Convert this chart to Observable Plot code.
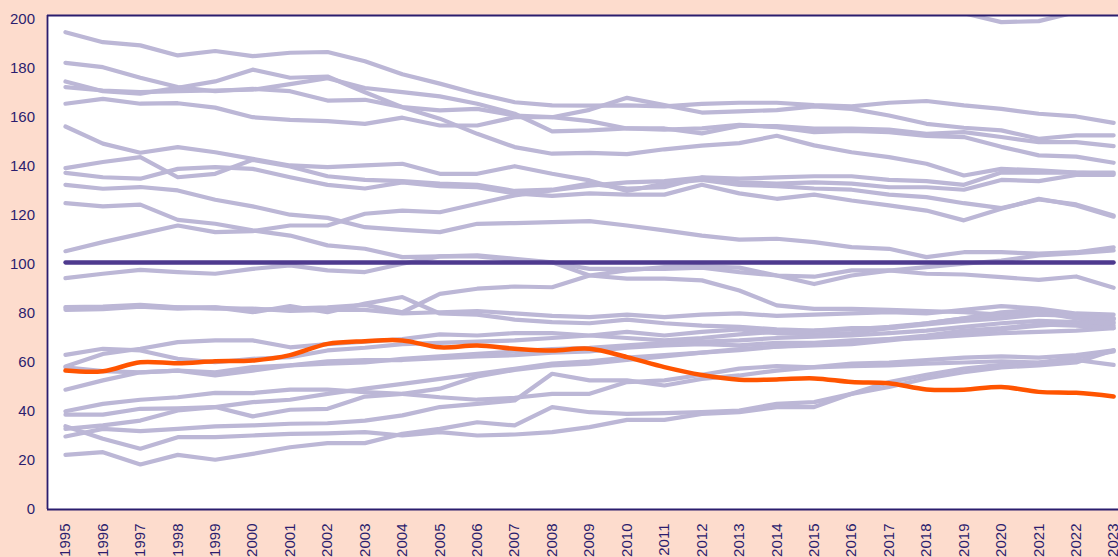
<!DOCTYPE html>
<html><head><meta charset="utf-8">
<script src="https://cdn.jsdelivr.net/npm/d3@7"></script>
<script src="https://cdn.jsdelivr.net/npm/@observablehq/plot@0.6"></script>
<style>
html,body{margin:0;padding:0;background:#fddccd;}
#chart{width:1118px;height:557px;overflow:hidden;}
</style></head><body><div id="chart"></div>
<script>
const years = [1995,1996,1997,1998,1999,2000,2001,2002,2003,2004,2005,2006,2007,2008,2009,2010,2011,2012,2013,2014,2015,2016,2017,2018,2019,2020,2021,2022,2023];
const yTicks = [0,20,40,60,80,100,120,140,160,180,200];

const s00 = [230,228,225,226,228,232,230,228,226,225,222,220,218,216,212,210,210,208,206,205,204,204,203,202.5,202.5,198.9,199.3,203,205];
const s01 = [194.8,190.7,189.4,185.3,187.1,185,186.4,186.7,182.9,177.6,173.8,169.7,166.2,164.9,164.8,164.9,164.5,165.5,166,166,165,164.5,166,166.7,164.9,163.5,161.5,160.4,157.8];
const s02 = [182.3,180.5,176.2,172.4,170.7,171.7,170.7,166.9,167.2,164.2,162.9,163.5,160.8,160.1,163.1,168,165,162,162.5,163,164.5,163.5,160.8,157.4,155.8,154.7,151.3,152.7,152.7];
const s03 = [174.7,170.7,169.7,172.1,174.7,179.5,176.2,176.7,170.3,164.2,159.5,153.3,147.9,145.2,145.5,145,147,148.5,149.5,152.5,148.6,145.8,143.8,141.1,136.3,139,138.4,137.5,137];
const s04 = [172.4,171,170.3,170.7,171,171.3,173.6,176,172,170.3,168.6,165.6,161.5,154.3,154.7,155.5,155.5,153.5,156.5,156.5,155.4,155.4,155,153.3,154,152,149.9,149.9,148.3];
const s05 = [165.6,167.6,165.6,165.8,164,160.1,159,158.5,157.4,159.9,156.7,156.7,160.1,160.1,158.5,155.5,155,155.5,157,156,154,154.5,154,152.5,152,148,144.5,144,141.5];
const s06 = [156.3,149.3,145.6,147.9,145.8,143.1,140.4,139.7,140.4,141.1,137,137,140.1,137,134.3,130,133,134.5,132.5,132,131,130.5,128.5,127.5,125,123,126.5,124.5,120];
const s07 = [139.3,141.8,143.8,135.6,137,142.7,140,136,134.5,134,133,132.5,130,130.5,133,131,131.5,135.5,133.5,133,133.5,133,131.5,131.5,130.5,134.5,134,136.5,136.6];
const s08 = [137.4,135.6,135,139,139.7,139,135.6,132.5,131,133.5,132,131.5,129,128,129,128.5,128.5,132.5,129,126.8,128.5,126.1,124.1,122,118,122.7,126.8,124.1,119.5];
const s09 = [132.5,130.9,131.6,130.2,126.4,123.7,120.3,119,115.2,114.1,113.2,116.6,116.9,117.3,117.7,115.9,113.9,111.8,110.1,110.5,109.1,107.1,106.4,103,105,105,104.4,105,107];
const s10 = [105.4,109.1,112.5,115.9,113.2,113.6,115.9,115.9,120.7,122,121.3,124.8,128.2,130.2,132.2,133.5,134,135.5,135,135.5,136,136,134.5,134,132.5,137.5,137.5,137.5,137.5];
const s11 = [125,123.7,124.4,118.2,116.6,113.9,111.8,107.8,106.4,103,103.3,103.3,101.9,100.8,98.2,98.2,98.2,98.7,96.9,95.5,95,97.6,97.6,96.2,95.9,94.8,93.7,95.1,90.5];
const s12 = [94.4,96.2,97.8,96.9,96.2,98.2,99.6,97.6,96.9,100.3,103.3,103.7,102.3,100.9,95.5,94.2,94.2,93.5,89.4,83.3,81.9,81.9,81.5,81,80.5,79.5,80.5,78.5,78];
const s13 = [82.6,82.8,83.5,82.5,82.5,81.5,82,82.5,83.5,80.5,88,90.1,91,90.7,95.5,97.6,98.9,99.2,98.7,95.5,92,95.5,97.5,98.9,100.3,101.6,103.7,104.6,105.7];
const s14 = [81.5,81.8,82.8,82,82.5,80.5,83,80.5,84,86.7,80,79.5,77.5,76.5,76,77.5,76,75,74.5,73.5,73,73.5,74.5,76,78,80.5,81.5,78.5,77.5];
const s15 = [82.2,82.5,83,82.5,82,82,81,81.5,81.5,80,80.5,81,80,79,78.5,79.5,78.5,79.5,80,79,79.5,80,80.5,80,81.5,83,82,80,79.5];
const s16 = [63.1,65.6,64.9,61.5,60.1,61.5,62.2,64.9,66,67.5,68,68.5,69,70,71,72.5,71,72.5,73.5,72,71.5,72,74,76,78,79.5,80.5,78,76];
const s17 = [58.4,63.5,65.6,68.3,69,69,66.2,67.5,68.5,69.5,71.5,71,72,72,71,70,69,70,71.5,72.5,73,74,74,75.5,77,78,79.5,79,78];
const s18 = [58,56.5,56,56.7,54.7,56.7,58.8,59.5,60,61.5,62.5,63.5,64.5,65.5,66,67,68,68.5,69,70,70.5,71,72,73,74.5,76,77,76.5,75];
const s19 = [48.9,52.7,56,56.7,56,58.1,58.8,60.5,61,61,61.8,62.5,63,64,64.5,66,67,67.5,67,68,68,69,69.5,70,71,72,72.5,73,74];
const s20 = [40.1,43.1,44.8,45.8,47.6,47.5,48.9,48.9,47.9,47.2,45.8,44.8,45.6,47.2,47.2,52,52.7,55,57.5,58.5,58,58.5,58.8,59.5,60,60.5,60,61,59];
const s21 = [38.7,38.7,41.1,41.3,41.8,38,40.7,41.1,46.1,47.2,49.3,54.3,57,58.8,59.5,61,62.5,64,65.5,66.5,67,67.5,69,70.5,72,73.5,75,76,76.5];
const s22 = [32.9,34.3,36.3,40.4,41.8,43.8,44.8,47.2,49.3,51.3,53.3,55.4,57.4,59.5,60.5,62,63,64,65,66.5,67.5,68,69.5,71,73,74,75.5,75,74];
const s23 = [29.8,32.9,32,32.9,33.9,34.3,35,35.2,36.3,38.4,41.8,43.1,44.5,55.4,52.7,52.7,50.6,53.3,54.7,56.7,58.1,59.5,60,61,62,62.5,62,63,65];
const s24 = [34,28.9,24.8,29.5,29.5,30.2,30.9,31.1,31.6,30.2,31.6,30.2,30.6,31.6,33.6,36.6,36.6,39,39.7,41.8,41.8,47.2,52,55,57.5,59,60,62,64.5];
const s25 = [22.3,23.4,18.4,22.3,20.3,22.7,25.4,27.1,27.1,30.9,32.9,35.6,34.3,41.8,39.7,39,39.3,39.7,40.4,43.1,43.8,47.2,50,53.5,56,58,58.8,60,65];

const benchmark = [100.8,100.8,100.8,100.8,100.8,100.8,100.8,100.8,100.8,100.8,100.8,100.8,100.8,100.8,100.8,100.8,100.8,100.8,100.8,100.8,100.8,100.8,100.8,100.8,100.8,100.8,100.8,100.8,100.8];
const highlight = [56.7,56.4,60.1,59.7,60.5,60.8,63,67.6,68.7,69,66.2,66.9,65.6,64.9,65.6,62.2,58.1,54.9,53,53.1,53.5,52,51.5,49,48.9,50,48,47.6,46.1];

const others = [s00,s01,s02,s03,s04,s05,s06,s07,s08,s09,s10,s11,s12,s13,s14,s15,s16,s17,s18,s19,s20,s21,s22,s23,s24,s25];
const rows = [];
others.forEach((s, k) => s.forEach((v, i) => rows.push({year: years[i], value: v, id: k})));
const bench = benchmark.map((v, i) => ({year: years[i], value: v}));
const hl = highlight.map((v, i) => ({year: years[i], value: v}));

const ink = "#2b1d6e";
const chart = Plot.plot({
  width: 1118, height: 557,
  marginLeft: 47, marginRight: 0, marginTop: 15, marginBottom: 48,
  style: {background: "transparent", fontFamily: "'Liberation Sans', Arial, sans-serif", fontSize: "15px", color: ink},
  x: {domain: [1994.52, 2023.13], label: null},
  y: {domain: [0, 201.6], label: null},
  marks: [
    Plot.frame({fill: "white", stroke: null}),
    Plot.lineY(rows, {x: "year", y: "value", z: "id", stroke: "#bcb7d6", strokeWidth: 4.2, clip: true}),
    Plot.lineY(bench, {x: "year", y: "value", stroke: "#4e3a8e", strokeWidth: 4.3}),
    Plot.lineY(hl, {x: "year", y: "value", stroke: "#ff5400", strokeWidth: 4.5, curve: "catmull-rom"}),
    Plot.ruleY([0], {stroke: ink, strokeWidth: 1.8}),
    Plot.ruleY([201.6], {stroke: ink, strokeWidth: 1.8}),
    Plot.ruleX([1994.52], {stroke: ink, strokeWidth: 1.8}),
    Plot.axisX(years, {tickFormat: d => String(d), tickRotate: -90, tickSize: 0, tickPadding: 14, fill: ink, fontSize: 15}),
    Plot.axisY(yTicks, {tickSize: 0, tickPadding: 12.5, fill: ink, fontSize: 15})
  ]
});
document.getElementById("chart").appendChild(chart);
</script>
</body></html>
